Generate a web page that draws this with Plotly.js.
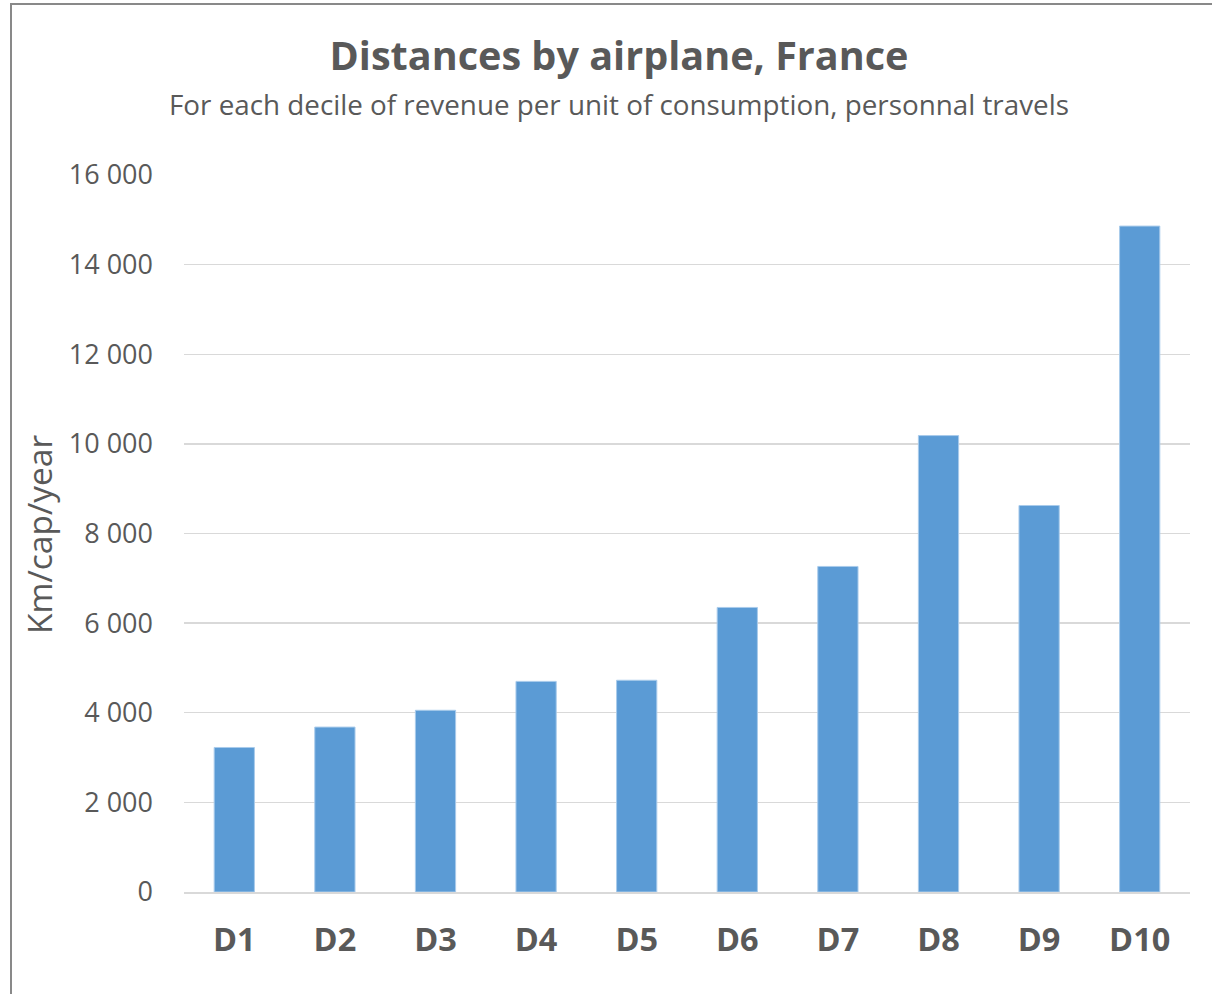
<!DOCTYPE html>
<html>
<head>
<meta charset="utf-8">
<script src="https://cdn.plot.ly/plotly-3.0.1.min.js"></script>
<style>
html,body{margin:0;padding:0;background:#fff;}
#chart{width:1212px;height:994px;}
</style>
</head>
<body>
<div id="chart"></div>
<script>
const categories = ["D1","D2","D3","D4","D5","D6","D7","D8","D9","D10"];
const distances = [3225, 3680, 4055, 4700, 4725, 6350, 7265, 10185, 8625, 14860];
const yTickValues = [0, 2000, 4000, 6000, 8000, 10000, 12000, 14000, 16000];

const titleText = "Distances by airplane, France";
const subtitleText = "For each decile of revenue per unit of consumption, personnal travels";
const yTitleText = "Km/cap/year";

const FONT = "'Open Sans', Lato, sans-serif";
const GREY = "#595959";

const trace = {
  type: "bar",
  x: categories,
  y: distances,
  marker: {color: "#5B9BD5", line: {color: "#A9CBEB", width: 1}},
  hoverinfo: "x+y"
};

const layout = {
  width: 1212,
  height: 994,
  paper_bgcolor: "#ffffff",
  plot_bgcolor: "#ffffff",
  margin: {l: 184, r: 22, t: 175, b: 102},
  separators: ", ",
  bargap: 0.6,
  showlegend: false,
  title: {
    text: "<b>" + titleText + "</b>",
    font: {family: FONT, size: 39.6, color: GREY},
    x: 619 / 1212, xanchor: "center", xref: "container",
    y: 1 - 56/994, yanchor: "middle", yref: "container"
  },
  xaxis: {
    type: "category",
    showgrid: false,
    showline: true,
    linecolor: "#D9D9D9",
    linewidth: 1.5,
    ticks: "",
    tickfont: {family: FONT, size: 32.5, color: GREY, weight: "bold"},
    ticklabelstandoff: 18,
    fixedrange: true
  },
  yaxis: {
    range: [0, 16000],
    tickvals: yTickValues,
    tickformat: ",d",
    showgrid: true,
    gridcolor: "#D9D9D9",
    gridwidth: 1.3,
    zeroline: false,
    showline: false,
    ticks: "",
    tickfont: {family: FONT, size: 27, color: GREY},
    ticklabelstandoff: 30,
    fixedrange: true
  },
  annotations: [
    {
      text: subtitleText,
      xref: "paper", yref: "paper",
      x: (619 - 184) / 1006, y: (892 - 104) / 717,
      xanchor: "center", yanchor: "middle",
      showarrow: false,
      font: {family: FONT, size: 27.8, color: GREY}
    },
    {
      text: yTitleText,
      xref: "paper", yref: "paper",
      x: (39 - 184) / 1006, y: (892 - 535) / 717,
      xanchor: "center", yanchor: "middle",
      textangle: -90,
      showarrow: false,
      font: {family: FONT, size: 33.5, color: GREY}
    }
  ],
  shapes: [
    {
      type: "rect", xref: "paper", yref: "paper",
      x0: (11 - 184) / 1006, x1: 1.2,
      y0: -0.3, y1: (892 - 4) / 717,
      line: {color: "#898989", width: 2},
      fillcolor: "rgba(0,0,0,0)",
      layer: "above"
    }
  ]
};

Plotly.newPlot("chart", [trace], layout, {displayModeBar: false, staticPlot: true});
</script>
</body>
</html>
